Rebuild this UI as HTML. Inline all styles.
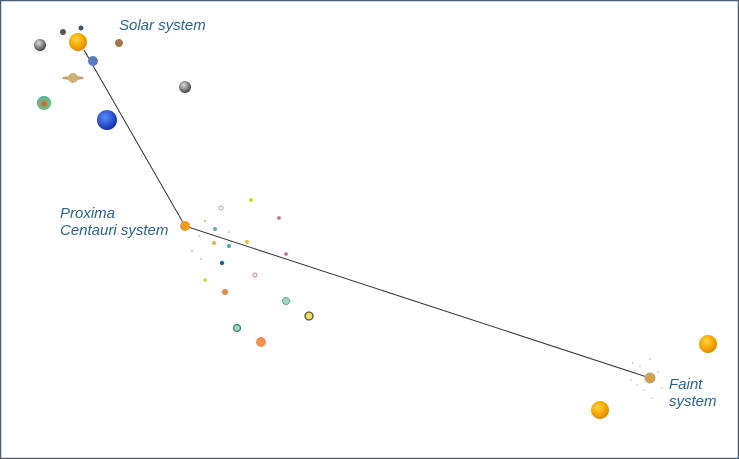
<!DOCTYPE html>
<html><head><meta charset="utf-8"><style>
html,body{margin:0;padding:0;background:#fff}
svg{display:block}
text{font-family:"Liberation Sans",sans-serif;font-style:italic;fill:#2a6496;font-size:15px}
</style></head><body>
<svg width="739" height="459" viewBox="0 0 739 459" xmlns="http://www.w3.org/2000/svg">
<defs>
<radialGradient id="sun" cx="40%" cy="35%" r="65%"><stop offset="0" stop-color="#ffd24a"/><stop offset=".6" stop-color="#f5a800"/><stop offset="1" stop-color="#e08a00"/></radialGradient>
<radialGradient id="nep" cx="40%" cy="35%" r="65%"><stop offset="0" stop-color="#5a8cff"/><stop offset="1" stop-color="#1030b0"/></radialGradient>
<radialGradient id="gray" cx="40%" cy="35%" r="65%"><stop offset="0" stop-color="#ddd"/><stop offset="1" stop-color="#444"/></radialGradient>
<radialGradient id="ura" cx="50%" cy="55%" r="60%"><stop offset="0" stop-color="#e05030"/><stop offset=".6" stop-color="#70c080"/><stop offset="1" stop-color="#40a0b0"/></radialGradient>
</defs>
<rect x="0.5" y="0.5" width="738" height="458" fill="#fff" stroke="#4a6078" stroke-width="1.5"/>
<polyline points="84,50 185,226 650,378" fill="none" stroke="#333" stroke-width="1"/>
<!-- solar system -->
<circle cx="78" cy="42" r="9" fill="url(#sun)"/>
<circle cx="93" cy="61" r="5" fill="#5a7ac0"/>
<circle cx="40" cy="45" r="6" fill="url(#gray)"/>
<circle cx="63" cy="32" r="3" fill="#555"/>
<circle cx="81" cy="28" r="2.5" fill="#456"/>
<circle cx="119" cy="43" r="4" fill="#a07850"/>
<ellipse cx="73" cy="78" rx="11" ry="2" fill="#c8a070"/>
<circle cx="73" cy="78" r="5" fill="#d0b070"/>
<circle cx="185" cy="87" r="6" fill="url(#gray)"/>
<circle cx="44" cy="103" r="7" fill="url(#ura)"/>
<circle cx="107" cy="120" r="10" fill="url(#nep)"/>
<text x="119" y="30">Solar system</text>
<!-- proxima -->
<circle cx="185" cy="226" r="5" fill="#f59a20"/>
<g>
<circle cx="251" cy="200" r="2" fill="#f0d020"/>
<circle cx="221" cy="208" r="2" fill="none" stroke="#8bc" stroke-width="1"/>
<circle cx="279" cy="218" r="1.8" fill="#d06080"/>
<circle cx="205" cy="221" r="1.2" fill="#e0c060"/>
<circle cx="215" cy="229" r="2" fill="#6ab"/>
<circle cx="229" cy="232" r="1" fill="#bcd"/>
<circle cx="214" cy="243" r="2" fill="#e0b060"/>
<circle cx="229" cy="246" r="2" fill="#4ab"/>
<circle cx="247" cy="242" r="2" fill="#f0c020"/>
<circle cx="286" cy="254" r="1.8" fill="#d06080"/>
<circle cx="192" cy="251" r="1.3" fill="#bde"/>
<circle cx="199" cy="236" r="1" fill="#ccc"/>
<circle cx="201" cy="259" r="1" fill="#bcd"/>
<circle cx="222" cy="263" r="2.2" fill="#1565a0"/>
<circle cx="255" cy="275" r="2" fill="none" stroke="#d08090" stroke-width="1"/>
<circle cx="205" cy="280" r="1.8" fill="#f0d020"/>
<circle cx="225" cy="292" r="3" fill="#e08840"/>
<circle cx="286" cy="301" r="3.5" fill="#a8d8a8" stroke="#6ab" stroke-width="1"/>
<circle cx="309" cy="316" r="4" fill="#f0e060" stroke="#5a5a30" stroke-width="1.3"/>
<circle cx="237" cy="328" r="3.5" fill="#a8d8b0" stroke="#2a80a0" stroke-width="1.3"/>
<circle cx="261" cy="342" r="5" fill="#f09050"/>
</g>
<text x="60" y="218">Proxima</text>
<text x="60" y="235">Centauri system</text>
<!-- faint -->
<circle cx="708" cy="344" r="9" fill="url(#sun)"/>
<circle cx="600" cy="410" r="9" fill="url(#sun)"/>
<g fill="#bbb">
<circle cx="633" cy="363" r=".8"/><circle cx="650" cy="359" r=".8"/><circle cx="640" cy="366" r=".8"/>
<circle cx="631" cy="380" r=".8"/><circle cx="658" cy="372" r=".8"/><circle cx="662" cy="388" r=".8"/>
<circle cx="652" cy="398" r=".8"/><circle cx="637" cy="385" r=".8"/><circle cx="644" cy="390" r=".8"/>
</g>
<circle cx="650" cy="378" r="5" fill="#d8a040" stroke="#aaa" stroke-width="1"/>
<text x="669" y="389">Faint</text>
<text x="669" y="406">system</text>
</svg>
</body></html>
